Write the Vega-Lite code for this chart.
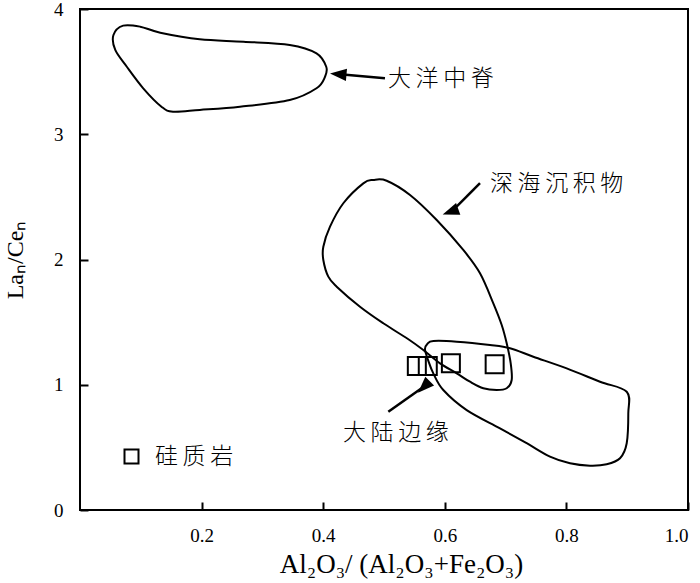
{
  "$schema": "https://vega.github.io/schema/vega-lite/v6.json",
  "width": 608,
  "height": 501,
  "autosize": {"type": "none"},
  "padding": {"left": 80, "top": 9, "right": 12, "bottom": 73},
  "background": "white",
  "config": {
    "view": {"stroke": "black", "strokeWidth": 2},
    "axis": {
      "grid": false,
      "domain": false,
      "ticks": true,
      "tickColor": "black",
      "tickWidth": 2,
      "tickSize": 8,
      "offset": -8,
      "zindex": 1,
      "labelFont": "Liberation Serif",
      "labelFontSize": 19,
      "labelColor": "black",
      "titleFont": "Liberation Serif",
      "titleFontWeight": "normal",
      "titleColor": "black"
    }
  },
  "datasets": {
    "curves": [
      {"c": "ridge", "i": 0, "x": 0.055, "y": 3.792},
      {"c": "ridge", "i": 1, "x": 0.071, "y": 3.867},
      {"c": "ridge", "i": 2, "x": 0.099, "y": 3.859},
      {"c": "ridge", "i": 3, "x": 0.132, "y": 3.811},
      {"c": "ridge", "i": 4, "x": 0.197, "y": 3.758},
      {"c": "ridge", "i": 5, "x": 0.269, "y": 3.739},
      {"c": "ridge", "i": 6, "x": 0.345, "y": 3.713},
      {"c": "ridge", "i": 7, "x": 0.389, "y": 3.646},
      {"c": "ridge", "i": 8, "x": 0.405, "y": 3.539},
      {"c": "ridge", "i": 9, "x": 0.403, "y": 3.459},
      {"c": "ridge", "i": 10, "x": 0.389, "y": 3.367},
      {"c": "ridge", "i": 11, "x": 0.345, "y": 3.273},
      {"c": "ridge", "i": 12, "x": 0.263, "y": 3.220},
      {"c": "ridge", "i": 13, "x": 0.197, "y": 3.194},
      {"c": "ridge", "i": 14, "x": 0.153, "y": 3.180},
      {"c": "ridge", "i": 15, "x": 0.134, "y": 3.220},
      {"c": "ridge", "i": 16, "x": 0.104, "y": 3.367},
      {"c": "ridge", "i": 17, "x": 0.077, "y": 3.539},
      {"c": "ridge", "i": 18, "x": 0.058, "y": 3.673},
      {"c": "deep", "i": 0, "x": 0.4824, "y": 2.635},
      {"c": "deep", "i": 1, "x": 0.5044, "y": 2.629},
      {"c": "deep", "i": 2, "x": 0.5428, "y": 2.515},
      {"c": "deep", "i": 3, "x": 0.5867, "y": 2.315},
      {"c": "deep", "i": 4, "x": 0.6304, "y": 2.076},
      {"c": "deep", "i": 5, "x": 0.6579, "y": 1.890},
      {"c": "deep", "i": 6, "x": 0.6798, "y": 1.650},
      {"c": "deep", "i": 7, "x": 0.6936, "y": 1.477},
      {"c": "deep", "i": 8, "x": 0.7018, "y": 1.331},
      {"c": "deep", "i": 9, "x": 0.7084, "y": 1.171},
      {"c": "deep", "i": 10, "x": 0.7100, "y": 1.038},
      {"c": "deep", "i": 11, "x": 0.7018, "y": 0.972},
      {"c": "deep", "i": 12, "x": 0.6853, "y": 0.958},
      {"c": "deep", "i": 13, "x": 0.6633, "y": 0.972},
      {"c": "deep", "i": 14, "x": 0.6414, "y": 1.024},
      {"c": "deep", "i": 15, "x": 0.6196, "y": 1.091},
      {"c": "deep", "i": 16, "x": 0.5921, "y": 1.171},
      {"c": "deep", "i": 17, "x": 0.5646, "y": 1.277},
      {"c": "deep", "i": 18, "x": 0.5395, "y": 1.365},
      {"c": "deep", "i": 19, "x": 0.4988, "y": 1.491},
      {"c": "deep", "i": 20, "x": 0.4605, "y": 1.623},
      {"c": "deep", "i": 21, "x": 0.4222, "y": 1.783},
      {"c": "deep", "i": 22, "x": 0.4084, "y": 1.863},
      {"c": "deep", "i": 23, "x": 0.4002, "y": 1.996},
      {"c": "deep", "i": 24, "x": 0.4002, "y": 2.102},
      {"c": "deep", "i": 25, "x": 0.4112, "y": 2.262},
      {"c": "deep", "i": 26, "x": 0.4331, "y": 2.449},
      {"c": "deep", "i": 27, "x": 0.4660, "y": 2.608},
      {"c": "margin", "i": 0, "x": 0.5674, "y": 1.283},
      {"c": "margin", "i": 1, "x": 0.5712, "y": 1.325},
      {"c": "margin", "i": 2, "x": 0.5811, "y": 1.349},
      {"c": "margin", "i": 3, "x": 0.6196, "y": 1.344},
      {"c": "margin", "i": 4, "x": 0.6743, "y": 1.317},
      {"c": "margin", "i": 5, "x": 0.7072, "y": 1.291},
      {"c": "margin", "i": 6, "x": 0.7456, "y": 1.224},
      {"c": "margin", "i": 7, "x": 0.8005, "y": 1.131},
      {"c": "margin", "i": 8, "x": 0.8553, "y": 1.024},
      {"c": "margin", "i": 9, "x": 0.8992, "y": 0.944},
      {"c": "margin", "i": 10, "x": 0.9018, "y": 0.772},
      {"c": "margin", "i": 11, "x": 0.8992, "y": 0.533},
      {"c": "margin", "i": 12, "x": 0.8882, "y": 0.413},
      {"c": "margin", "i": 13, "x": 0.8663, "y": 0.365},
      {"c": "margin", "i": 14, "x": 0.8388, "y": 0.354},
      {"c": "margin", "i": 15, "x": 0.8059, "y": 0.373},
      {"c": "margin", "i": 16, "x": 0.7730, "y": 0.426},
      {"c": "margin", "i": 17, "x": 0.7347, "y": 0.533},
      {"c": "margin", "i": 18, "x": 0.6908, "y": 0.652},
      {"c": "margin", "i": 19, "x": 0.6360, "y": 0.798},
      {"c": "margin", "i": 20, "x": 0.5975, "y": 0.958},
      {"c": "margin", "i": 21, "x": 0.5811, "y": 1.091},
      {"c": "margin", "i": 22, "x": 0.5724, "y": 1.198}
    ],
    "arrows": [
      {"a": "ridge", "end": 0, "x": 0.5016, "y": 3.447},
      {"a": "ridge", "end": 1, "x": 0.4276, "y": 3.479},
      {"a": "deep", "end": 0, "x": 0.6579, "y": 2.610},
      {"a": "deep", "end": 1, "x": 0.612, "y": 2.386},
      {"a": "margin", "end": 0, "x": 0.5071, "y": 0.785},
      {"a": "margin", "end": 1, "x": 0.5676, "y": 0.992}
    ],
    "samples": [
      {"type": "硅质岩", "x": 0.554, "y": 1.150},
      {"type": "硅质岩", "x": 0.572, "y": 1.150},
      {"type": "硅质岩", "x": 0.610, "y": 1.171},
      {"type": "硅质岩", "x": 0.682, "y": 1.163}
    ],
    "labels": [
      {"t": "大\u2009洋\u2009中\u2009脊", "x": 0.5066, "y": 3.441},
      {"t": "深\u2009海\u2009沉\u2009积\u2009物", "x": 0.6743, "y": 2.603},
      {"t": "大\u2009陆\u2009边\u2009缘", "x": 0.4326, "y": 0.615}
    ]
  },
  "encoding": {
    "x": {
      "field": "x",
      "type": "quantitative",
      "scale": {"domain": [0, 1], "nice": false, "zero": false},
      "axis": {
        "values": [0.2, 0.4, 0.6, 0.8, 1.0],
        "format": ".1f",
        "labelPadding": 16,
        "title": "Al₂O₃/ (Al₂O₃+Fe₂O₃)",
        "titleFontSize": 27,
        "titleX": 321,
        "titlePadding": 6
      }
    },
    "y": {
      "field": "y",
      "type": "quantitative",
      "scale": {"domain": [0, 4], "nice": false, "zero": false},
      "axis": {
        "values": [0, 1, 2, 3, 4],
        "format": "d",
        "labelPadding": 17,
        "title": "Laₙ/Ceₙ",
        "titleFontSize": 24,
        "titlePadding": 26
      }
    }
  },
  "layer": [
    {
      "data": {"name": "curves"},
      "mark": {"type": "line", "interpolate": "cardinal-closed", "color": "black", "strokeWidth": 2},
      "encoding": {
        "detail": {"field": "c", "type": "nominal"},
        "order": {"field": "i", "type": "quantitative"}
      }
    },
    {
      "data": {"name": "arrows"},
      "mark": {"type": "line", "color": "black", "strokeWidth": 2.5},
      "encoding": {
        "detail": {"field": "a", "type": "nominal"},
        "order": {"field": "end", "type": "quantitative"}
      }
    },
    {
      "data": {"name": "arrows"},
      "transform": [{"filter": "datum.end == 1"}],
      "mark": {"type": "point", "filled": true, "color": "black", "opacity": 1, "size": 400, "shape": "M0,-1L0.62,0.65L-0.62,0.65Z"},
      "encoding": {
        "angle": {"field": "a", "type": "nominal", "scale": {"domain": ["ridge", "deep", "margin"], "range": [275, 225, 55]}, "legend": null}
      }
    },
    {
      "data": {"name": "samples"},
      "mark": {"type": "point", "filled": false, "color": "black", "opacity": 1, "strokeWidth": 2, "size": 324},
      "encoding": {
        "shape": {
          "field": "type",
          "type": "nominal",
          "scale": {"range": ["square"]},
          "legend": {
            "orient": "none",
            "legendX": 40,
            "legendY": 436,
            "title": null,
            "symbolType": "square",
            "symbolSize": 196,
            "symbolStrokeWidth": 2,
            "symbolStrokeColor": "black",
            "symbolFillColor": "transparent",
            "labelFont": "Noto Sans CJK SC",
            "labelFontSize": 23,
            "labelFontWeight": 300,
            "labelColor": "black",
            "labelOffset": 12,
            "labelExpr": "replace(datum.label, regexp('(.)(?!$)', 'g'), '$1\u2009')"
          }
        }
      }
    },
    {
      "data": {"name": "labels"},
      "mark": {"type": "text", "align": "left", "baseline": "middle", "font": "Noto Sans CJK SC", "fontSize": 23, "fontWeight": 300, "color": "black"},
      "encoding": {
        "text": {"field": "t", "type": "nominal"}
      }
    }
  ]
}
